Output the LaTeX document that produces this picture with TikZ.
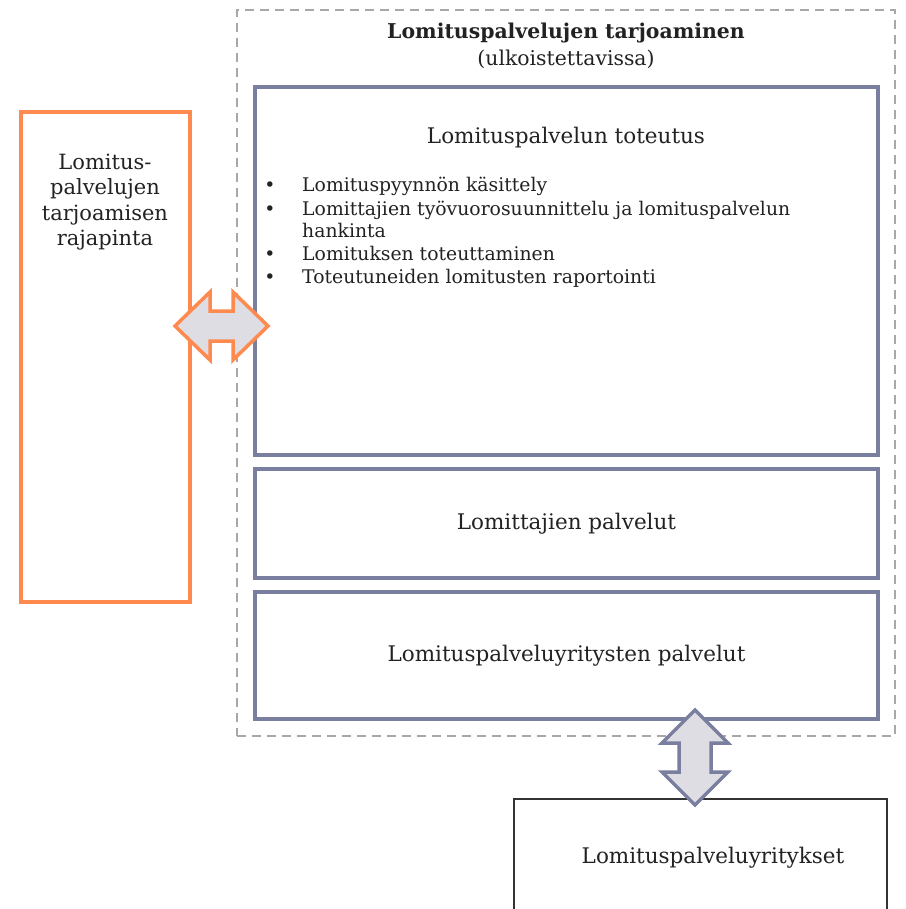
\documentclass[tikz,border=0pt]{standalone}
\usepackage{fontspec}
\setmainfont{DejaVu Serif}
\usetikzlibrary{calc}
\definecolor{purp}{HTML}{7A7E9F}
\definecolor{orng}{HTML}{FF8A4F}
\definecolor{dgrey}{HTML}{A8A8A8}
\definecolor{afill}{HTML}{DDDDE3}
\definecolor{txt}{HTML}{222222}
\definecolor{bbox}{HTML}{333333}
\begin{document}
\begin{tikzpicture}[x=1pt,y=-1pt,
  pbox/.style={draw=purp,line width=4pt,rectangle,inner sep=0pt,text=txt,font=\fontsize{21.5}{26}\selectfont},
  obox/.style={draw=orng,line width=4pt,rectangle,inner sep=0pt},
  lbl/.style={text=txt,inner sep=0pt,font=\fontsize{21.5}{26}\selectfont,align=center},
  itemtxt/.style={text=txt,inner sep=0pt,anchor=base west,font=\fontsize{18.8}{22}\selectfont},
  bul/.style={text=txt,inner sep=0pt,anchor=base,font=\fontsize{18.8}{22}\selectfont},
  arrowshape/.style={fill=afill,line width=3.5pt,line join=miter}]
\useasboundingbox (0,0) rectangle (905,909);
\clip (0,0) rectangle (905,909);
\fill[white] (0,0) rectangle (905,909);
% outer dashed container
\node[draw=dgrey,line width=2.4pt,dash pattern=on 9pt off 6pt,rectangle,inner sep=0pt,
      minimum width=658pt,minimum height=726pt] (outer) at (566,373) {};
\node[lbl,font=\bfseries\fontsize{20.4}{24}\selectfont] (title) at (566,33) {Lomituspalvelujen tarjoaminen};
\node[lbl,font=\fontsize{20.4}{24}\selectfont] (subtitle) at (566,59) {(ulkoistettavissa)};
% inner boxes
\node[pbox,minimum width=623pt,minimum height=368pt] (b1) at (566.5,271) {};
\node[lbl] (b1title) at (566,138) {Lomituspalvelun toteutus};
\node[bul] (d1) at (270,192) {•};
\node[itemtxt] (i1) at (302,192) {Lomituspyynnön käsittely};
\node[bul] (d2) at (270,215) {•};
\node[itemtxt] (i2) at (302,215) {Lomittajien työvuorosuunnittelu ja lomituspalvelun};
\node[itemtxt] (i2b) at (302,237) {hankinta};
\node[bul] (d3) at (270,260) {•};
\node[itemtxt] (i3) at (302,260) {Lomituksen toteuttaminen};
\node[bul] (d4) at (270,283) {•};
\node[itemtxt] (i4) at (302,283) {Toteutuneiden lomitusten raportointi};
\node[pbox,minimum width=623pt,minimum height=109pt] (b2) at (566.5,523.5) {Lomittajien palvelut};
\node[pbox,minimum width=623pt,minimum height=127pt] (b3) at (566.5,655.5) {Lomituspalveluyritysten palvelut};
% left interface box
\node[obox,minimum width=169pt,minimum height=490pt] (left) at (105.5,357) {};
\node[lbl,font=\fontsize{21}{25.3}\selectfont] (lefttxt) at (105,202) {Lomitus-\\palvelujen\\tarjoamisen\\rajapinta};
% bottom box
\node[draw=bbox,line width=2.5pt,rectangle,inner sep=0pt,minimum width=373pt,minimum height=130pt] (bottom) at (700.5,864) {};
\node[lbl] (bottomtxt) at (713,858) {Lomituspalveluyritykset};
% horizontal double arrow (left box <-> container)
\coordinate (ha) at (221.5,326);
\draw[arrowshape,draw=orng] ($(ha)+(-46.5,0)$) -- ++(35,-34) -- ++(0,19) -- ++(23,0) -- ++(0,-19)
   -- ($(ha)+(46.5,0)$) -- ++(-35,34) -- ++(0,-19) -- ++(-23,0) -- ++(0,19) -- cycle;
% vertical double arrow (container <-> companies)
\coordinate (va) at (695,757.5);
\draw[arrowshape,draw=purp] ($(va)+(0,-47.5)$) -- ++(33,33) -- ++(-17,0) -- ++(0,29) -- ++(17,0)
   -- ($(va)+(0,47.5)$) -- ++(-33,-33) -- ++(17,0) -- ++(0,-29) -- ++(-17,0) -- cycle;
\end{tikzpicture}
\end{document}
